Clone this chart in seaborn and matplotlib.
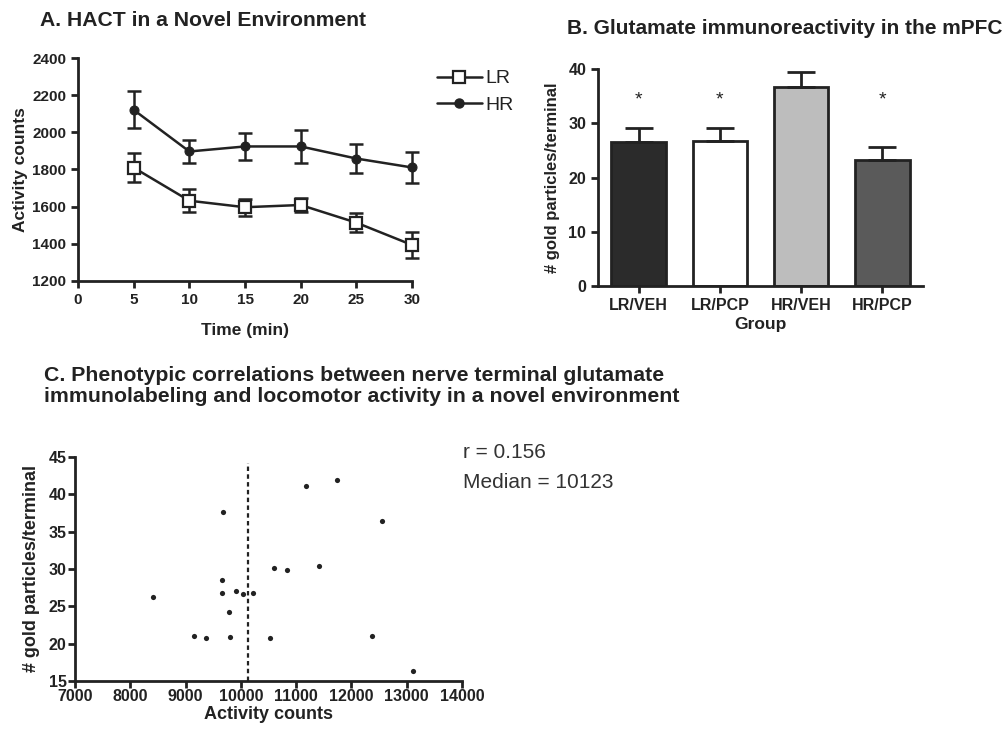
import numpy as np
import pandas as pd
import matplotlib
matplotlib.use('Agg')
import matplotlib.pyplot as plt
import seaborn as sns

# Panel A - activity in a novel environment
time_min = [5, 10, 15, 20, 25, 30]
lr_mean = [1810, 1632, 1597, 1609, 1514, 1394]
lr_sem = [78, 63, 45, 36, 50, 72]
hr_mean = [2121, 1897, 1924, 1924, 1859, 1811]
hr_sem = [100, 60, 72, 90, 80, 85]

# Panel B - glutamate immunoreactivity
groups = ['LR/VEH', 'LR/PCP', 'HR/VEH', 'HR/PCP']
gold_mean = [26.5, 26.7, 36.6, 23.3]
gold_sem = [2.7, 2.5, 2.8, 2.3]
signif = ['*', '*', '', '*']
bar_colors = ['#2b2b2b', '#ffffff', '#bdbdbd', '#5a5a5a']

# Panel C - correlations
activity = [8407, 9148, 9377, 9675, 9661, 9661, 9793, 9800, 9918, 10042,
            10222, 10520, 10603, 10832, 11185, 11421, 11740, 12544, 12377, 13105]
gold = [26.3, 21.0, 20.7, 37.7, 28.5, 26.8, 24.2, 20.9, 27.1, 26.6,
        26.8, 20.8, 30.2, 29.8, 41.1, 30.4, 41.9, 36.4, 21.0, 16.4]
median_activity = 10123
r_value = 0.156

sns.set_theme(style='ticks')
plt.rcParams['font.family'] = ['Liberation Sans', 'DejaVu Sans']
plt.rcParams['font.weight'] = 'bold'
plt.rcParams['axes.linewidth'] = 2
plt.rcParams['xtick.major.width'] = 2
plt.rcParams['ytick.major.width'] = 2
plt.rcParams['xtick.major.size'] = 5
plt.rcParams['ytick.major.size'] = 5
ink = '#222222'
plt.rcParams['text.color'] = ink
plt.rcParams['axes.edgecolor'] = ink
plt.rcParams['xtick.color'] = ink
plt.rcParams['ytick.color'] = ink
plt.rcParams['axes.labelcolor'] = ink

W, H = 1008, 732
fig = plt.figure(figsize=(W / 100, H / 100), dpi=100)


def box(l, t, r, b):
    return [l / W, 1 - b / H, (r - l) / W, (b - t) / H]


# ---- A ----
axA = fig.add_axes(box(78, 58, 412, 281))
dfA = pd.DataFrame({'Time': time_min * 2,
                    'Counts': lr_mean + hr_mean,
                    'Group': ['LR'] * 6 + ['HR'] * 6})
for m, e in [(lr_mean, lr_sem), (hr_mean, hr_sem)]:
    eb = axA.errorbar(time_min, m, yerr=e, fmt='none', ecolor=ink, elinewidth=1.8,
                      capsize=5, capthick=1.8)
    for art in eb.get_children():
        art.set_clip_on(False)
sns.lineplot(data=dfA, x='Time', y='Counts', hue='Group', style='Group',
             markers={'LR': 's', 'HR': 'o'}, dashes=False,
             palette={'LR': ink, 'HR': ink}, linewidth=1.8, ax=axA, legend=False)
for ln in axA.get_lines():
    ln.set_clip_on(False)
    ln.set_zorder(5)
    if ln.get_marker() == 's':
        ln.set_markerfacecolor('white')
        ln.set_markeredgecolor(ink)
        ln.set_markeredgewidth(1.6)
        ln.set_markersize(9)
    elif ln.get_marker() == 'o':
        ln.set_markerfacecolor(ink)
        ln.set_markeredgecolor(ink)
        ln.set_markersize(6.5)
axA.set_xlim(0, 30)
axA.set_ylim(1200, 2400)
axA.set_xticks([0, 5, 10, 15, 20, 25, 30])
axA.set_yticks(range(1200, 2401, 200))
axA.set_xlabel('Time (min)', fontsize=12.5, fontweight='bold', labelpad=12)
axA.set_ylabel('Activity counts', fontsize=12.5, fontweight='bold', labelpad=3)
axA.tick_params(labelsize=11)
for s in ['top', 'right']:
    axA.spines[s].set_visible(False)
h_lr = plt.Line2D([], [], color=ink, lw=1.8, marker='s', mfc='white', mec=ink, mew=1.6, ms=8)
h_hr = plt.Line2D([], [], color=ink, lw=1.8, marker='o', mfc=ink, mec=ink, ms=6.5)
leg = axA.legend([h_lr, h_hr], ['LR', 'HR'], loc='upper left', bbox_to_anchor=(1.022, 1.026),
                 frameon=False, handlelength=2.3, handletextpad=0.2, labelspacing=0.45,
                 prop={'family': 'Liberation Sans', 'weight': 'normal', 'size': 14})
fig.text(40 / W, 1 - 21 / H, 'A. HACT in a Novel Environment', fontsize=15.2, fontweight='bold',
         va='center', ha='left')

# ---- B ----
axB = fig.add_axes(box(598, 69, 923, 286))
dfB = pd.DataFrame({'Group': groups, 'Gold': gold_mean})
sns.barplot(data=dfB, x='Group', y='Gold', hue='Group', palette=bar_colors, width=0.67,
            edgecolor=ink, linewidth=2, ax=axB, legend=False)
xpos = np.arange(len(groups))
axB.errorbar(xpos, gold_mean, yerr=[np.zeros(len(groups)), gold_sem], fmt='none',
             ecolor=ink, elinewidth=2, capsize=10, capthick=2)
for i, s in enumerate(signif):
    if s:
        axB.text(xpos[i], 34.2, s, ha='center', va='center', fontsize=14, fontweight='normal')
axB.set_xlim(-0.5, 3.5)
axB.set_ylim(0, 40)
axB.set_yticks([0, 10, 20, 30, 40])
axB.set_xlabel('Group', fontsize=12.5, fontweight='bold', labelpad=3)
axB.set_ylabel('# gold particles/terminal', fontsize=12, fontweight='bold', labelpad=6)
axB.tick_params(labelsize=11.5)
for s in ['top', 'right']:
    axB.spines[s].set_visible(False)
fig.text(567 / W, 1 - 29 / H, 'B. Glutamate immunoreactivity in the mPFC', fontsize=15,
         fontweight='bold', va='center', ha='left')

# ---- C ----
axC = fig.add_axes(box(75, 457, 462, 681))
dfC = pd.DataFrame({'Activity': activity, 'Gold': gold})
sns.scatterplot(data=dfC, x='Activity', y='Gold', color=ink, s=14, edgecolor=ink, linewidth=0, ax=axC)
axC.axvline(median_activity, ymin=0, ymax=0.975, color=ink, lw=1.6, ls=(0, (2, 1.5)))
axC.set_xlim(7000, 14000)
axC.set_ylim(15, 45)
axC.set_xticks(range(7000, 14001, 1000))
axC.set_yticks(range(15, 46, 5))
axC.set_xlabel('Activity counts', fontsize=13, fontweight='bold', labelpad=1)
axC.set_ylabel('# gold particles/terminal', fontsize=13, fontweight='bold', labelpad=6)
axC.tick_params(labelsize=11.5, pad=1)
for s in ['top', 'right']:
    axC.spines[s].set_visible(False)
fig.text(463 / W, 1 - 453 / H, 'r = %.3f' % r_value, fontsize=15, fontweight='normal',
         va='center', ha='left', color='#333333')
fig.text(463 / W, 1 - 483 / H, 'Median = %d' % median_activity, fontsize=15, fontweight='normal',
         va='center', ha='left', color='#333333')
fig.text(44 / W, 1 - 386 / H,
         'C. Phenotypic correlations between nerve terminal glutamate\n'
         'immunolabeling and locomotor activity in a novel environment',
         fontsize=15.3, fontweight='bold', va='center', ha='left', linespacing=1.1)

fig.savefig('out.png', dpi=100, facecolor='white')
